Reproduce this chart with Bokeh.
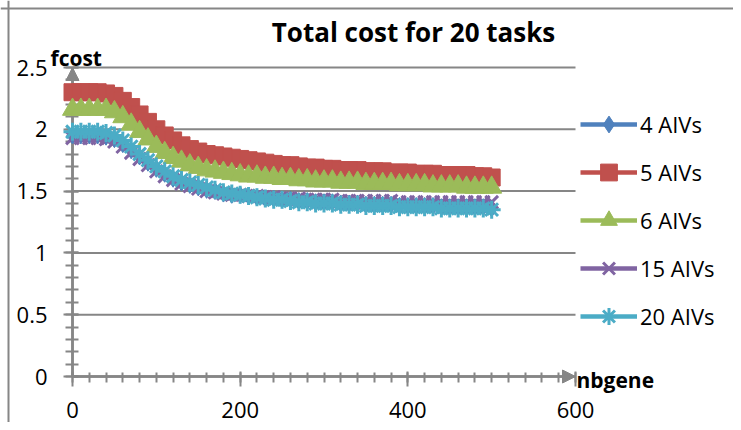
from bokeh.plotting import figure
from bokeh.models import (Range1d, SingleIntervalTicker, Legend, LegendItem, Label,
                          Arrow, NormalHead, Span)
from bokeh.embed import file_html
from bokeh.resources import INLINE

# ---------------- data ----------------
nbgene = [0, 10, 20, 30, 40, 50, 60, 70, 80, 90, 100, 110, 120, 130, 140, 150, 160, 170, 180, 190,
          200, 210, 220, 230, 240, 250, 260, 270, 280, 290, 300, 310, 320, 330, 340, 350, 360, 370,
          380, 390, 400, 410, 420, 430, 440, 450, 460, 470, 480, 490, 500]

aiv4 = [1.95, 1.95, 1.95, 1.95, 1.94, 1.92, 1.88, 1.83, 1.78, 1.73, 1.68, 1.64, 1.60, 1.57, 1.55,
        1.53, 1.51, 1.50, 1.48, 1.47, 1.47, 1.46, 1.45, 1.44, 1.44, 1.43, 1.43, 1.42, 1.42, 1.41,
        1.41, 1.41, 1.40, 1.40, 1.40, 1.39, 1.39, 1.39, 1.39, 1.38, 1.38, 1.38, 1.38, 1.38, 1.37,
        1.37, 1.37, 1.37, 1.37, 1.37, 1.36]

aiv5 = [2.30, 2.30, 2.30, 2.30, 2.29, 2.27, 2.23, 2.18, 2.12, 2.06, 2.00, 1.95, 1.91, 1.87, 1.84,
        1.82, 1.80, 1.79, 1.78, 1.77, 1.76, 1.75, 1.74, 1.73, 1.72, 1.71, 1.71, 1.70, 1.69, 1.69,
        1.68, 1.68, 1.67, 1.67, 1.67, 1.66, 1.66, 1.66, 1.65, 1.65, 1.65, 1.64, 1.64, 1.64, 1.63,
        1.63, 1.63, 1.63, 1.62, 1.62, 1.61]

aiv6 = [2.16, 2.16, 2.16, 2.16, 2.16, 2.14, 2.10, 2.04, 1.98, 1.92, 1.86, 1.81, 1.77, 1.74, 1.71,
        1.69, 1.67, 1.66, 1.65, 1.64, 1.63, 1.62, 1.62, 1.61, 1.61, 1.60, 1.60, 1.59, 1.59, 1.58,
        1.58, 1.58, 1.57, 1.57, 1.57, 1.56, 1.56, 1.56, 1.56, 1.55, 1.55, 1.55, 1.55, 1.54, 1.54,
        1.54, 1.54, 1.53, 1.53, 1.53, 1.53]

aiv15 = [1.93, 1.93, 1.93, 1.93, 1.92, 1.90, 1.86, 1.81, 1.76, 1.71, 1.66, 1.62, 1.59, 1.56, 1.54,
         1.52, 1.50, 1.49, 1.48, 1.47, 1.47, 1.46, 1.46, 1.45, 1.45, 1.44, 1.44, 1.44, 1.43, 1.43,
         1.43, 1.43, 1.42, 1.42, 1.42, 1.42, 1.42, 1.42, 1.42, 1.41, 1.41, 1.41, 1.41, 1.41, 1.41,
         1.41, 1.41, 1.41, 1.41, 1.41, 1.41]

aiv20 = [1.98, 1.98, 1.98, 1.98, 1.97, 1.95, 1.91, 1.86, 1.80, 1.75, 1.70, 1.66, 1.62, 1.59, 1.57,
         1.55, 1.53, 1.51, 1.49, 1.48, 1.47, 1.46, 1.45, 1.44, 1.43, 1.43, 1.42, 1.41, 1.41, 1.40,
         1.40, 1.40, 1.39, 1.39, 1.39, 1.38, 1.38, 1.38, 1.38, 1.37, 1.37, 1.37, 1.37, 1.37, 1.36,
         1.36, 1.36, 1.36, 1.36, 1.36, 1.35]

series_names = ["4 AIVs", "5 AIVs", "6 AIVs", "15 AIVs", "20 AIVs"]
series_values = [aiv4, aiv5, aiv6, aiv15, aiv20]
series_colors = ["#4F81BD", "#C0504D", "#9BBB59", "#8064A2", "#4BACC6"]
series_markers = ["diamond", "square", "triangle", "x", "asterisk"]

y_ticks = [0.0, 0.5, 1.0, 1.5, 2.0, 2.5]
y_tick_labels = ["0", "0.5", "1", "1.5", "2", "2.5"]
grid_values = [0.5, 1.0, 1.5, 2.0, 2.5]

title_text = "Total cost for 20 tasks"
x_title = "nbgene"
y_title = "fcost"

FONT = "Open Sans"
GRAY = "#868686"
X_MIN, X_MAX = 0, 600
Y_MIN, Y_MAX = 0, 2.5

W, H = 733, 422
# pixel placement of the axes inside the canvas
PX0, PX600 = 72, 575      # x = 0 and x = 600
PY0, PY25 = 376, 67       # y = 0 and y = 2.5
sx = (PX600 - PX0) / (X_MAX - X_MIN)
sy = (PY0 - PY25) / (Y_MAX - Y_MIN)
x_start = X_MIN - PX0 / sx
x_end = X_MIN + (W - PX0) / sx
y_start = Y_MIN - (H - PY0) / sy
y_end = Y_MIN + PY0 / sy


def dx(px):
    return X_MIN + (px - PX0) / sx


def dy(py):
    return Y_MIN + (PY0 - py) / sy


# ---------------- figure ----------------
p = figure(output_backend="svg", toolbar_location=None,
           frame_width=W, frame_height=H,
           x_range=Range1d(x_start, x_end), y_range=Range1d(y_start, y_end),
           min_border=0, min_border_top=0, min_border_bottom=0,
           min_border_left=0, min_border_right=0)
p.outline_line_color = None
p.xgrid.visible = False
p.ygrid.visible = False
p.background_fill_color = "white"
p.border_fill_color = "white"

# chart-area border (left and top edges)
p.add_layout(Span(location=dx(8), dimension="height", line_color=GRAY, line_width=2))
p.add_layout(Span(location=dy(8), dimension="width", line_color=GRAY, line_width=2))

# horizontal grid lines spanning the plot area 0..600
p.segment(x0=[X_MIN] * len(grid_values), x1=[X_MAX] * len(grid_values),
          y0=grid_values, y1=grid_values, line_color=GRAY, line_width=2)

# axes
xa = p.xaxis[0]
xa.ticker = SingleIntervalTicker(interval=200, num_minor_ticks=10)
xa.bounds = (X_MIN, X_MAX)
xa.fixed_location = Y_MIN
xa.axis_line_color = GRAY
xa.axis_line_width = 2.5
xa.major_tick_line_color = GRAY
xa.minor_tick_line_color = GRAY
xa.major_tick_line_width = 2
xa.minor_tick_line_width = 2
xa.major_tick_in = 5
xa.major_tick_out = 10
xa.minor_tick_in = 4
xa.minor_tick_out = 6
xa.major_label_text_font = FONT
xa.major_label_text_font_size = "22px"
xa.major_label_text_color = "black"
xa.major_label_standoff = 15
xa.level = "underlay"

ya = p.yaxis[0]
ya.ticker = SingleIntervalTicker(interval=0.5, num_minor_ticks=5)
ya.bounds = (Y_MIN, Y_MAX)
ya.fixed_location = X_MIN
ya.axis_line_color = GRAY
ya.axis_line_width = 2.5
ya.major_tick_line_color = GRAY
ya.minor_tick_line_color = GRAY
ya.major_tick_line_width = 2
ya.minor_tick_line_width = 2
ya.major_tick_in = 6
ya.major_tick_out = 9
ya.minor_tick_in = 6
ya.minor_tick_out = 7
ya.major_label_text_font = FONT
ya.major_label_text_font_size = "22px"
ya.major_label_text_color = "black"
ya.major_label_standoff = 16
ya.major_label_overrides = dict(zip(y_ticks, y_tick_labels))
ya.level = "underlay"

# arrow heads on the axes
p.add_layout(Arrow(x_start=X_MIN, y_start=Y_MIN, x_end=X_MIN, y_end=Y_MAX,
                   line_color=GRAY, line_width=2.5, level="underlay",
                   end=NormalHead(size=13, fill_color=GRAY, line_color=GRAY)))
p.add_layout(Arrow(x_start=X_MIN, y_start=Y_MIN, x_end=X_MAX, y_end=Y_MIN,
                   line_color=GRAY, line_width=2.5, level="underlay",
                   end=NormalHead(size=13, fill_color=GRAY, line_color=GRAY)))

# series
items = []
for name, vals, col, mk in zip(series_names, series_values, series_colors, series_markers):
    lr = p.line(nbgene, vals, line_color=col, line_width=4.5)
    if mk in ("x", "asterisk"):
        sr = p.scatter(nbgene, vals, marker=mk, size=18, line_color=col, line_width=3)
    elif mk == "triangle":
        sr = p.scatter(nbgene, vals, marker=mk, size=20, fill_color=col, line_color=col)
    else:
        sr = p.scatter(nbgene, vals, marker=mk, size=17, fill_color=col, line_color=col)
    items.append(LegendItem(label=name, renderers=[lr, sr]))

legend = Legend(items=items, location=(580, 85), orientation="vertical",
                glyph_width=57, glyph_height=42, label_height=42, spacing=6,
                label_standoff=3, padding=0, margin=0,
                border_line_color=None, background_fill_alpha=0,
                label_text_font=FONT, label_text_font_size="22px", label_text_color="black",
                label_text_baseline="middle")
p.add_layout(legend, "center")

# titles
p.add_layout(Label(x=dx(413), y=dy(31), text=title_text, text_font=FONT, text_font_size="26px",
                   text_font_style="bold", text_align="center", text_baseline="middle",
                   text_color="black"))
p.add_layout(Label(x=dx(50), y=dy(57), text=y_title, text_font=FONT, text_font_size="21px",
                   text_font_style="bold", text_align="left", text_baseline="middle",
                   text_color="black"))
p.add_layout(Label(x=dx(576), y=dy(379), text=x_title, text_font=FONT, text_font_size="21px",
                   text_font_style="bold", text_align="left", text_baseline="middle",
                   text_color="black"))

open("out.html", "w").write(file_html(p, INLINE))
